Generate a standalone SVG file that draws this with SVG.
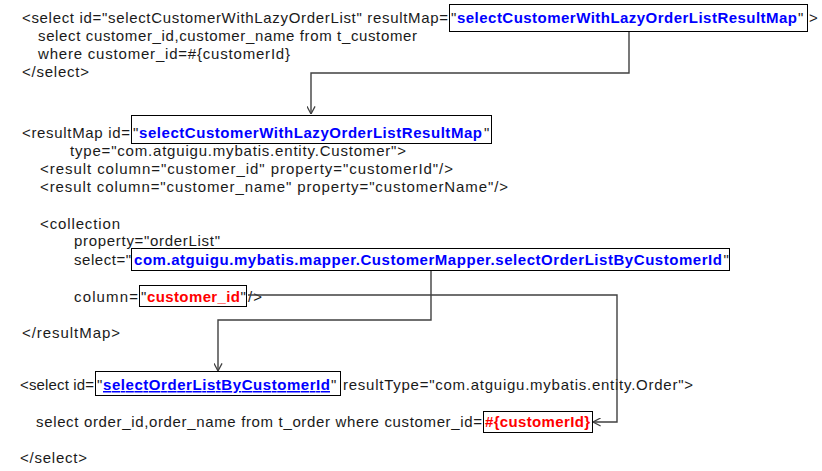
<svg xmlns="http://www.w3.org/2000/svg" width="822" height="471" viewBox="0 0 822 471">
<defs>
<style>
text{font-family:"Liberation Sans","Arial",sans-serif;font-size:15px;fill:#1a1a1a}
.b{font-weight:bold;fill:#0000ff}
.r{font-weight:bold;fill:#ff0000}
.u{text-decoration:underline}
.box{fill:none;stroke:#000;stroke-width:1}
.con{fill:none;stroke:#404040;stroke-width:1.4}
</style>
<marker id="arr" viewBox="0 0 10 10" refX="9.5" refY="5" markerWidth="9" markerHeight="9" markerUnits="userSpaceOnUse" orient="auto">
<path d="M1,0.5 L9.5,5 L1,9.5" fill="none" stroke="#404040" stroke-width="1.4"/>
</marker>
</defs>
<rect width="822" height="471" fill="#fff"/>

<g id="select1">
<text x="22" y="23" textLength="426">&lt;select id="selectCustomerWithLazyOrderList" resultMap=</text>
<rect class="box" x="449.5" y="4.5" width="358" height="27"/>
<text x="451" y="23">"</text>
<text class="b" x="457" y="23" textLength="340">selectCustomerWithLazyOrderListResultMap</text>
<text x="798" y="23">"</text>
<text x="809" y="23">&gt;</text>
<text x="38" y="41" textLength="379">select customer_id,customer_name from t_customer</text>
<text x="38" y="59" textLength="252">where customer_id=#{customerId}</text>
<text x="22" y="77" textLength="67">&lt;/select&gt;</text>
</g>

<g id="resultMap">
<text x="22" y="138" textLength="108">&lt;resultMap id=</text>
<rect class="box" x="131.5" y="115.5" width="360" height="28"/>
<text x="133" y="138">"</text>
<text class="b" x="139" y="138" textLength="343">selectCustomerWithLazyOrderListResultMap</text>
<text x="484" y="138">"</text>
<text x="70" y="156" textLength="336">type="com.atguigu.mybatis.entity.Customer"&gt;</text>
<text x="40" y="174" textLength="413">&lt;result column="customer_id" property="customerId"/&gt;</text>
<text x="40" y="192" textLength="468">&lt;result column="customer_name" property="customerName"/&gt;</text>
<text x="40" y="229" textLength="80">&lt;collection</text>
<text x="74" y="246" textLength="146">property="orderList"</text>
<text x="74" y="265" textLength="57">select="</text>
<rect class="box" x="131.5" y="248.5" width="598" height="22"/>
<text class="b" x="134" y="265" textLength="588">com.atguigu.mybatis.mapper.CustomerMapper.selectOrderListByCustomerId</text>
<text x="723.5" y="265">"</text>
<text x="74" y="302" textLength="64">column=</text>
<rect class="box" x="139.5" y="285.5" width="107" height="21"/>
<text x="141" y="302">"</text>
<text class="r" x="147" y="302" textLength="93">customer_id</text>
<text x="240.5" y="302">"</text>
<text x="248" y="302" textLength="14">/&gt;</text>
<text x="22" y="338" textLength="98">&lt;/resultMap&gt;</text>
</g>

<g id="select2">
<text x="20" y="390" textLength="74">&lt;select id=</text>
<rect class="box" x="95.5" y="371.5" width="245" height="24"/>
<text x="97" y="390">"</text>
<text class="b u" x="103" y="390" textLength="227">selectOrderListByCustomerId</text>
<text x="331" y="390">"</text>
<text x="343" y="390" textLength="350">resultType="com.atguigu.mybatis.entity.Order"&gt;</text>
<text x="36" y="427" textLength="446">select order_id,order_name from t_order where customer_id=</text>
<rect class="box" x="483.5" y="411.5" width="109" height="21"/>
<text class="r" x="485" y="427" textLength="105">#{customerId}</text>
<text x="20" y="463" textLength="67">&lt;/select&gt;</text>
</g>

<g id="connectors">
<path class="con" d="M629,32 V73 H311 V114" marker-end="url(#arr)"/>
<path class="con" d="M431,271 V320 H218 V371" marker-end="url(#arr)"/>
<path class="con" d="M248,295 H617 V422 H593" marker-end="url(#arr)"/>
</g>
</svg>
